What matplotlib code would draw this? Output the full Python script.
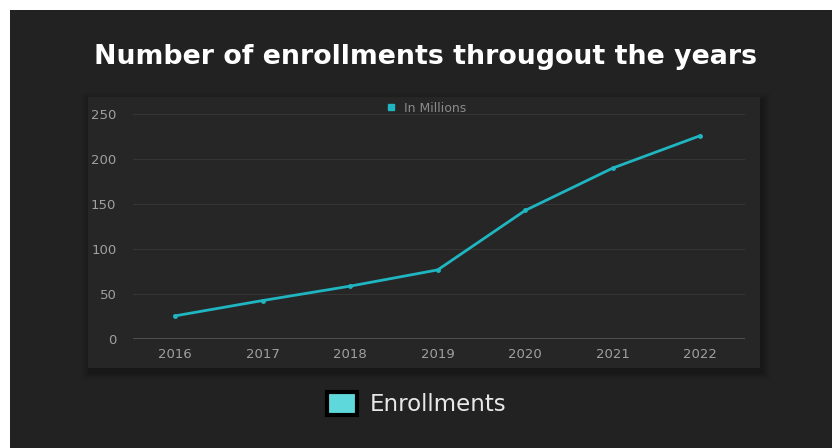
import matplotlib.pyplot as plt
from matplotlib.patches import Rectangle
from matplotlib.lines import Line2D

# data
years = ['2016', '2017', '2018', '2019', '2020', '2021', '2022']
enrollments = [26, 43, 59, 77, 143, 190, 226]
y_ticks = [0, 50, 100, 150, 200, 250]

W, H = 832, 448
fig = plt.figure(figsize=(W / 100, H / 100), dpi=100, facecolor='white')

def px(x0, y0, x1, y1):
    # pixel box (top-left origin) -> figure fraction rect
    return (x0 / W, 1 - y1 / H, (x1 - x0) / W, (y1 - y0) / H)

# dark page background
l, b, w, h = px(10, 10, W, H)
fig.patches.append(Rectangle((l, b), w, h, transform=fig.transFigure,
                             facecolor='#222222', edgecolor='none', zorder=0))

# card with soft shadow
for i, a in enumerate([0.04, 0.06, 0.08, 0.10]):
    d = 8 - i * 2
    l, b, w, h = px(88 - d + 2, 97 - d + 4, 760 + d + 2, 368 + d + 4)
    fig.patches.append(Rectangle((l, b), w, h, transform=fig.transFigure,
                                 facecolor='black', alpha=a, edgecolor='none', zorder=0.5))
l, b, w, h = px(88, 97, 760, 368)
fig.patches.append(Rectangle((l, b), w, h, transform=fig.transFigure,
                             facecolor='#262626', edgecolor='none', zorder=1))

ax = fig.add_axes(px(133, 114, 745, 339.3))
ax.set_facecolor('none')
ax.set_zorder(2)

x = list(range(len(years)))
ax.plot(x, enrollments, color='#1fb5c1', lw=2, marker='o', ms=3.5,
        markeredgewidth=0, label='In Millions', zorder=3)

ax.set_xlim(-0.48, 6.51)
ax.set_ylim(0, 250)
ax.set_xticks(x)
ax.set_xticklabels(years)
ax.set_yticks(y_ticks)
ax.grid(axis='y', color='#353535', lw=0.8)
ax.axhline(0, color='#555555', lw=1.2, zorder=2.5)
for s in ax.spines.values():
    s.set_visible(False)
ax.tick_params(length=0, colors='#a0a0a0', labelsize=9.5, pad=6)
for t in ax.get_xticklabels() + ax.get_yticklabels():
    t.set_family('DejaVu Sans')
ax.tick_params(axis='y', pad=12)

leg = ax.legend(handles=[Line2D([], [], color='#1fb5c1', marker='s', ls='none', ms=4)],
                labels=['In Millions'], loc='lower center', bbox_to_anchor=(0.473, 0.975),
                frameon=False, prop={'family': 'DejaVu Sans', 'size': 9},
                handletextpad=0.1, borderaxespad=0)
for t in leg.get_texts():
    t.set_color('#8a8a8a')

fig.text(426 / W, 1 - 57 / H, 'Number of enrollments througout the years',
         ha='center', va='center', color='white', fontsize=19.3, fontweight='bold',
         family='DejaVu Sans')

# bottom legend
l, b, w, h = px(327, 392, 357, 415)
fig.patches.append(Rectangle((l, b), w, h, transform=fig.transFigure,
                             facecolor='#5fd8dc', edgecolor='black', lw=3, zorder=3))
fig.text(370 / W, 1 - 404 / H, 'Enrollments', ha='left', va='center',
         color='#e8e8e8', fontsize=16.5, family='DejaVu Sans')

fig.savefig('out.png', dpi=100, facecolor=fig.get_facecolor())
